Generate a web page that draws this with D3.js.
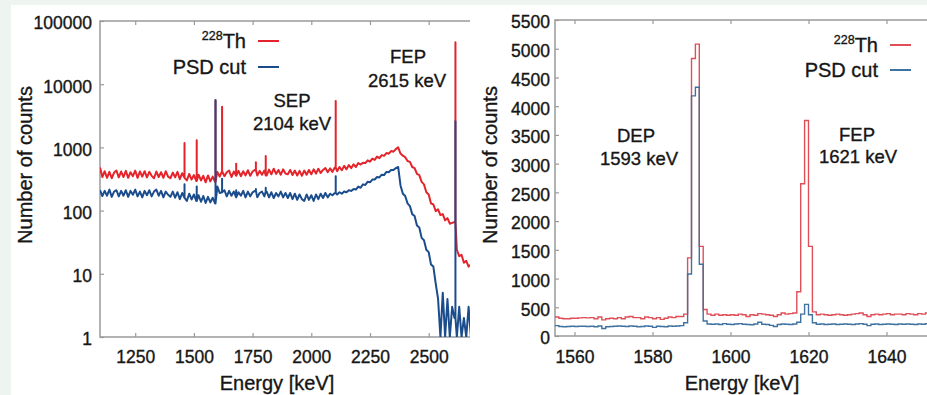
<!DOCTYPE html>
<html>
<head>
<meta charset="utf-8">
<script src="https://cdn.jsdelivr.net/npm/d3@7"></script>
<style>
  html, body { margin: 0; padding: 0; background: #eef5f1; }
  svg { display: block; }
  text { font-family: "Liberation Sans", Arial, sans-serif; fill: #161616; stroke: #161616; stroke-width: 0.35px; }
</style>
</head>
<body>
<svg id="chart" width="927" height="395"></svg>
<script>
// ---------- 228Th spectrum, wide range (10 keV bins, 1100 - 2680 keV) ----------
const wideStart = 1100, wideEnd = 2680, wideStep = 10;

const wideRaw = [
  480, 340, 420, 330, 410, 325, 400, 430, 335, 415,
  340, 425, 330, 405, 350, 430, 330, 415, 345, 420,
  335, 410, 355, 325, 415, 340, 405, 330, 420, 345,
  325, 400, 335, 410, 315, 390, 330, 300, 380, 310,
  365, 295, 370, 300, 355, 280, 360, 290, 345, 285,
  410, 345, 420, 350, 405, 430, 340, 415, 355, 425,
  350, 420, 360, 435, 355, 415, 440, 360, 425, 370,
  430, 360, 445, 375, 460, 380, 440, 370, 450, 385,
  375, 440, 365, 430, 360, 425, 355, 430, 370, 440,
  375, 450, 385, 460, 395, 440, 470, 405, 465, 410,
  480, 420, 490, 435, 510, 450, 525, 470, 540, 490,
  565, 535, 570, 565, 625, 595, 665, 635, 715, 675,
  755, 735, 815, 795, 875, 855, 940, 1000, 800, 740,
  700, 610, 590, 490, 470, 380, 365, 285, 260, 195,
  180, 130, 125, 98, 105, 85, 88, 70, 76, 62,
  64, 66, 24, 19, 20, 15, 16, 13, 14
];

const wideCut = [
  210, 170, 205, 172, 215, 165, 200, 210, 168, 205,
  172, 210, 165, 205, 178, 215, 168, 200, 162, 205,
  175, 210, 168, 200, 215, 172, 205, 162, 200, 178,
  165, 200, 160, 195, 152, 190, 160, 142, 185, 150,
  180, 142, 175, 138, 170, 132, 165, 135, 160, 130,
  240, 190, 195, 210, 168, 205, 172, 200, 162, 195,
  172, 205, 162, 200, 168, 195, 205, 162, 190, 200,
  168, 200, 162, 195, 158, 190, 168, 200, 162, 190,
  158, 190, 152, 185, 148, 180, 152, 142, 180, 148,
  175, 142, 180, 152, 185, 158, 190, 162, 185, 175,
  190, 180, 195, 185, 200, 195, 210, 205, 220, 215,
  240, 230, 260, 255, 285, 280, 310, 310, 340, 335,
  370, 365, 410, 405, 440, 440, 470, 490, 250, 185,
  170, 130, 118, 88, 82, 58, 54, 37, 34, 24,
  22, 14, 13, 7, 4, 1, 5, 1, 4, 1,
  3, 2, 1, 3, 1, 2, 1, 3, 1
];

// gamma lines drawn as narrow spikes on top of the continuum
const lineEnergies = [1460, 1512, 1592, 1620, 1680, 1764, 1806, 2104, 2614];
const lineRaw      = [1170, 1300, 5500, 4400, 550, 580, 730, 5400, 46000];
const lineCut      = [260, 240, 5600, 320, 210, 220, 230, 350, 2600];

const wideXTicks = [1250, 1500, 1750, 2000, 2250, 2500];
const wideYTicks = [1, 10, 100, 1000, 10000, 100000];

// ---------- zoom on DEP / FEP region (1 keV bins, 1555 - 1650 keV) ----------
const zoomStart = 1555, zoomStep = 1;

const zoomRaw = [
  330, 310, 300, 300, 310, 310, 315, 320, 315, 320,
  300, 330, 280, 300, 310, 300, 320, 300, 330, 340,
  320, 320, 300, 330, 320, 300, 320, 290, 310, 330,
  320, 340, 340, 380, 1360, 4830, 5080, 1560, 460, 380,
  360, 380, 360, 370, 360, 370, 360, 380, 370, 340,
  370, 360, 390, 380, 370, 360, 340, 370, 400, 380,
  390, 400, 770, 2650, 3750, 1560, 420, 370, 380, 370,
  360, 370, 380, 370, 360, 370, 380, 390, 400, 370,
  340, 370, 380, 370, 380, 390, 370, 380, 380, 370,
  390, 380, 370, 390, 380, 400
];

const zoomCut = [
  180, 165, 160, 165, 170, 165, 170, 170, 165, 170,
  160, 175, 130, 160, 165, 170, 175, 170, 165, 175,
  170, 160, 165, 175, 170, 150, 170, 165, 160, 175,
  170, 175, 180, 230, 1080, 4180, 4330, 1250, 260, 210,
  205, 210, 200, 215, 205, 200, 210, 215, 205, 200,
  195, 210, 240, 205, 200, 185, 165, 200, 210, 205,
  200, 210, 240, 380, 550, 370, 230, 205, 210, 200,
  205, 210, 200, 205, 210, 205, 200, 210, 215, 205,
  180, 205, 210, 200, 205, 210, 205, 200, 210, 205,
  210, 205, 200, 210, 205, 215
];

const zoomXTicks = [1560, 1580, 1600, 1620, 1640];
const zoomYTicks = d3.range(0, 5501, 500);

// ---------- styling ----------
const RED_W = "#e4232a", BLUE_W = "#1b4c8c";
const RED_Z = "#df4f58", BLUE_Z = "#3f72a0";
const FRAME = "#9a9a9a";

const svg = d3.select("#chart");

// white card behind both panels
svg.append("rect").attr("x", 11).attr("y", 5).attr("width", 916).attr("height", 390).attr("fill", "#ffffff");

function styleAxis(g) {
  g.select(".domain").remove();
  g.selectAll(".tick line").attr("stroke", FRAME).attr("stroke-width", 1.2);
  g.selectAll(".tick text").style("font-size", "17.5px").attr("fill", "#161616");
}

// ===================== left panel =====================
const L = { left: 100, top: 21, bottom: 337, clipRight: 470 };
const xW = d3.scaleLinear().domain([1100, 2676]).range([L.left, 470]);
const yW = d3.scaleLog().domain([1, 100000]).range([L.bottom, L.top]).clamp(true);

const left = svg.append("g");
left.append("clipPath").attr("id", "clipL")
  .append("rect").attr("x", L.left).attr("y", L.top - 2).attr("width", L.clipRight - L.left).attr("height", L.bottom - L.top + 2);

// frame
left.append("path")
  .attr("d", `M${L.clipRight},${L.top}H${L.left}V${L.bottom}H${L.clipRight}`)
  .attr("fill", "none").attr("stroke", FRAME).attr("stroke-width", 1.5);

left.append("g").attr("transform", `translate(0,${L.bottom})`)
  .call(d3.axisBottom(xW).tickValues(wideXTicks).tickSizeInner(-4).tickSizeOuter(0).tickPadding(13.5).tickFormat(d3.format("d")))
  .call(styleAxis);
left.append("g").attr("transform", `translate(0,${L.top})`)
  .call(d3.axisTop(xW).tickValues(wideXTicks).tickSizeInner(-4).tickSizeOuter(0).tickFormat(""))
  .call(styleAxis);
left.append("g").attr("transform", `translate(${L.left},0)`)
  .call(d3.axisLeft(yW).tickValues(wideYTicks).tickSizeInner(-4).tickSizeOuter(0).tickPadding(8).tickFormat(d3.format("d")))
  .call(styleAxis)
  .call(g => g.selectAll(".tick text").attr("dy", "0.45em"));

// spectrum = continuum plus vertical spikes at the gamma lines
const wideE = d3.range(wideStart, wideEnd + 1, wideStep);
function widePoints(cont, peaks) {
  const pts = wideE.map((e, i) => ({ e, c: cont[i] }));
  lineEnergies.forEach((e, k) => {
    const base = cont[Math.round((e - wideStart) / wideStep)];
    pts.push({ e, c: base }, { e, c: peaks[k] }, { e, c: base });
  });
  return pts.sort((a, b) => a.e - b.e);
}
const wideLine = d3.line().x(d => xW(d.e)).y(d => yW(Math.max(d.c, 1)));
const plotL = left.append("g").attr("clip-path", "url(#clipL)");
plotL.append("path").datum(widePoints(wideRaw, lineRaw))
  .attr("d", wideLine).attr("fill", "none").attr("stroke", RED_W).attr("stroke-width", 2).attr("stroke-linejoin", "round");
plotL.append("path").datum(widePoints(wideCut, lineCut))
  .attr("d", wideLine).attr("fill", "none").attr("stroke", BLUE_W).attr("stroke-width", 2).attr("stroke-linejoin", "round");

// titles
left.append("text").attr("x", 277).attr("y", 390).attr("text-anchor", "middle").style("font-size", "20px").text("Energy [keV]");
left.append("text").attr("transform", "translate(32,165) rotate(-90)").attr("text-anchor", "middle").style("font-size", "20px").text("Number of counts");

// legend
function legend(g, xr, yBase, label, sup, color) {
  const t = g.append("text").attr("x", xr).attr("y", yBase).attr("text-anchor", "end").style("font-size", "20px");
  if (sup) {
    t.append("tspan").style("font-size", "12.5px").attr("dy", -8).text(sup);
    t.append("tspan").attr("dy", 8).text(label);
  } else t.text(label);
  g.append("line").attr("x1", xr + 12).attr("x2", xr + 33).attr("y1", yBase - 7).attr("y2", yBase - 7)
    .attr("stroke", color).attr("stroke-width", 2);
}
legend(left, 246, 48, "Th", "228", RED_W);
legend(left, 246, 74, "PSD cut", null, BLUE_W);

// peak annotations
function note(g, x, y, txt) {
  g.append("text").attr("x", x).attr("y", y).attr("text-anchor", "middle").style("font-size", "18.5px").text(txt);
}
note(left, 292, 107, "SEP");
note(left, 292, 130, "2104 keV");
note(left, 408, 63, "FEP");
note(left, 407, 87, "2615 keV");

// ===================== right panel =====================
const R = { left: 555, top: 20, bottom: 336 };
const xZ = d3.scaleLinear().domain([1555, 1650]).range([R.left, 925.5]);
const yZ = d3.scaleLinear().domain([0, 5500]).range([R.bottom, R.top]);

const right = svg.append("g");
right.append("path")
  .attr("d", `M930,${R.top}H${R.left}V${R.bottom}H930`)
  .attr("fill", "none").attr("stroke", FRAME).attr("stroke-width", 1.5);

right.append("g").attr("transform", `translate(0,${R.bottom})`)
  .call(d3.axisBottom(xZ).tickValues(zoomXTicks).tickSizeInner(-4).tickSizeOuter(0).tickPadding(14.5).tickFormat(d3.format("d")))
  .call(styleAxis);
right.append("g").attr("transform", `translate(0,${R.top})`)
  .call(d3.axisTop(xZ).tickValues(zoomXTicks).tickSizeInner(-4).tickSizeOuter(0).tickFormat(""))
  .call(styleAxis);
right.append("g").attr("transform", `translate(${R.left},0)`)
  .call(d3.axisLeft(yZ).tickValues(zoomYTicks).tickSizeInner(-4).tickSizeOuter(0).tickPadding(5).tickFormat(d3.format("d")))
  .call(styleAxis)
  .call(g => g.selectAll(".tick text").attr("dy", "0.45em"));

// step histograms (each bin drawn from its lower edge to the next)
function zoomPoints(vals) {
  const pts = vals.map((c, i) => ({ e: zoomStart + i * zoomStep, c }));
  pts.push({ e: zoomStart + vals.length * zoomStep, c: vals[vals.length - 1] });
  return pts;
}
const stepLine = d3.line().curve(d3.curveStepAfter).x(d => xZ(d.e)).y(d => yZ(d.c));
right.append("path").datum(zoomPoints(zoomRaw)).attr("d", stepLine)
  .attr("fill", "none").attr("stroke", RED_Z).attr("stroke-width", 1.4);
right.append("path").datum(zoomPoints(zoomCut)).attr("d", stepLine)
  .attr("fill", "none").attr("stroke", BLUE_Z).attr("stroke-width", 1.4);

right.append("text").attr("x", 742).attr("y", 390).attr("text-anchor", "middle").style("font-size", "20px").text("Energy [keV]");
right.append("text").attr("transform", "translate(497,165) rotate(-90)").attr("text-anchor", "middle").style("font-size", "20px").text("Number of counts");

legend(right, 878, 52, "Th", "228", RED_Z);
legend(right, 878, 77, "PSD cut", null, BLUE_Z);

note(right, 636, 142, "DEP");
note(right, 639, 165, "1593 keV");
note(right, 857, 141, "FEP");
note(right, 858, 163, "1621 keV");
</script>
</body>
</html>
